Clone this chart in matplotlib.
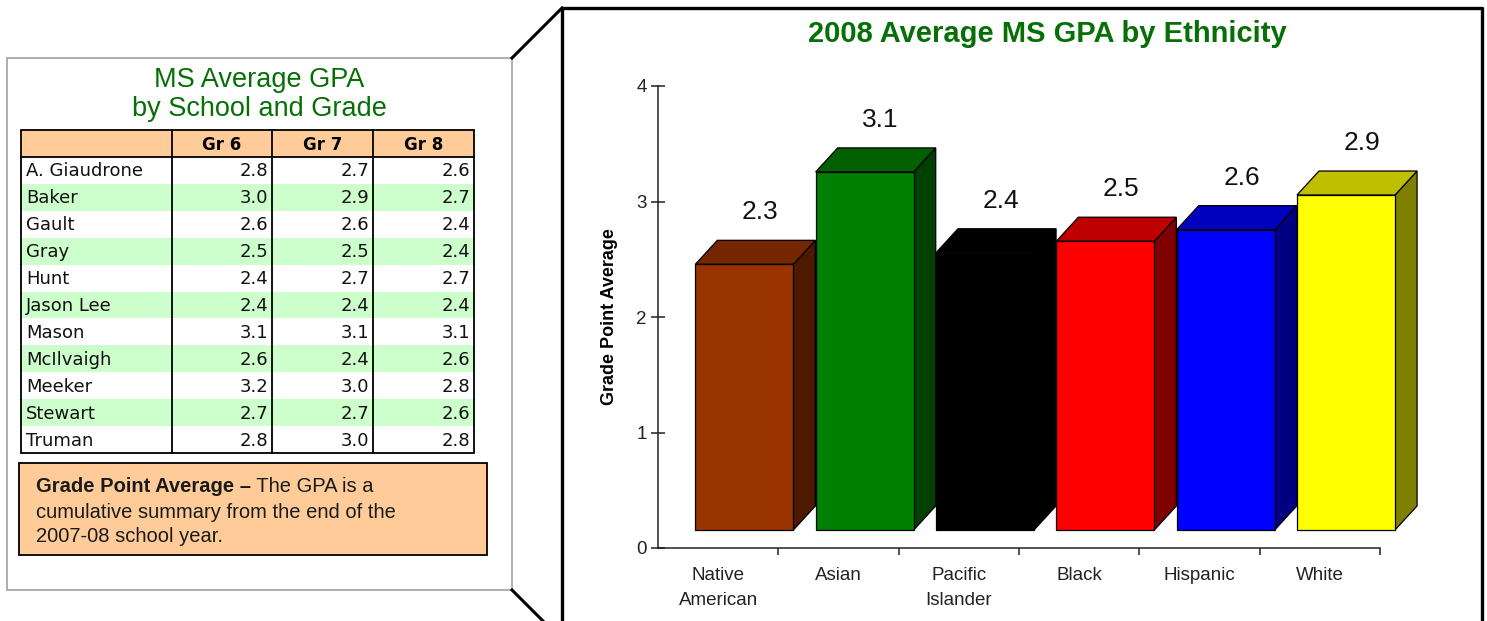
import matplotlib.pyplot as plt
from matplotlib.patches import Polygon, Rectangle
import matplotlib.colors as mcolors

# left table data
schools = ['A. Giaudrone', 'Baker', 'Gault', 'Gray', 'Hunt', 'Jason Lee',
           'Mason', 'McIlvaigh', 'Meeker', 'Stewart', 'Truman']
grades = ['Gr 6', 'Gr 7', 'Gr 8']
gr6 = [2.8, 3.0, 2.6, 2.5, 2.4, 2.4, 3.1, 2.6, 3.2, 2.7, 2.8]
gr7 = [2.7, 2.9, 2.6, 2.5, 2.7, 2.4, 3.1, 2.4, 3.0, 2.7, 3.0]
gr8 = [2.6, 2.7, 2.4, 2.4, 2.7, 2.4, 3.1, 2.6, 2.8, 2.6, 2.8]

# right chart data
groups = ['Native\nAmerican', 'Asian', 'Pacific\nIslander', 'Black', 'Hispanic', 'White']
gpa = [2.3, 3.1, 2.4, 2.5, 2.6, 2.9]
bar_colors = ['#993300', '#008000', '#000000', '#FF0000', '#0000FF', '#FFFF00']

GREEN = '#067006'
ORANGE = '#FFCC99'
ROW_GREEN = '#CCFFCC'
ARIAL = 'Liberation Sans'
TABLE_FONT = 'DejaVu Sans'

W, H = 1487, 621
fig = plt.figure(figsize=(W / 100, H / 100), dpi=100)

# full-figure axes in pixel units for the panel decoration
bg = fig.add_axes([0, 0, 1, 1])
bg.set_xlim(0, W)
bg.set_ylim(H, 0)
bg.axis('off')

# left panel box + connector lines + right frame
bg.add_patch(Rectangle((7, 58), 505, 532, fill=False, ec='#a8a8a8', lw=1.3))
bg.plot([512, 562], [58, 8], color='black', lw=2.2)
bg.plot([512, 562], [590, 640], color='black', lw=2.2)
bg.plot([562, 562, 1482, 1482], [640, 8, 8, 640], color='black', lw=2.4)

bg.text(259, 80, 'MS Average GPA', ha='center', va='center', fontsize=19.5,
        color=GREEN, family=ARIAL)
bg.text(259, 109, 'by School and Grade', ha='center', va='center', fontsize=19.5,
        color=GREEN, family=ARIAL)

# table
col_x = [21, 172, 272, 373, 474]
head_top, head_bot, tab_bot = 130, 157, 453
row_h = (tab_bot - head_bot) / len(schools)

bg.add_patch(Rectangle((col_x[0], head_top), col_x[-1] - col_x[0], head_bot - head_top,
                       fc=ORANGE, ec='none'))
for j, g in enumerate(grades):
    bg.text((col_x[j + 1] + col_x[j + 2]) / 2, (head_top + head_bot) / 2 + 1, g,
            ha='center', va='center', fontsize=12, weight='bold', family=TABLE_FONT)

values = list(zip(gr6, gr7, gr8))
for i, name in enumerate(schools):
    y = head_bot + i * row_h
    if i % 2 == 1:
        bg.add_patch(Rectangle((col_x[0], y), col_x[-1] - col_x[0], row_h,
                               fc=ROW_GREEN, ec='none'))
    bg.text(col_x[0] + 5, y + row_h / 2 + 1, name, ha='left', va='center',
            fontsize=13, family=TABLE_FONT, color='#111111')
    for j, v in enumerate(values[i]):
        bg.text(col_x[j + 2] - 4, y + row_h / 2 + 1, f'{v:.1f}', ha='right', va='center',
                fontsize=13, family=TABLE_FONT, color='#111111')

bg.add_patch(Rectangle((col_x[0], head_top), col_x[-1] - col_x[0], tab_bot - head_top,
                       fill=False, ec='black', lw=1.3))
for cx in col_x[1:-1]:
    bg.plot([cx, cx], [head_top, tab_bot], color='black', lw=1.3)
bg.plot([col_x[0], col_x[-1]], [head_bot, head_bot], color='black', lw=1.3)

# note box
bg.add_patch(Rectangle((19, 463), 468, 92, fc=ORANGE, ec='black', lw=1.3))
t1 = bg.text(36, 487, 'Grade Point Average \u2013', ha='left', va='center',
             fontsize=14.5, weight='bold', family=ARIAL, color='#1a1a1a')
bg.annotate(' The GPA is a', xy=(1, 0), xycoords=t1, ha='left', va='bottom',
            fontsize=14.5, family=ARIAL, color='#1a1a1a')
bg.text(36, 512, 'cumulative summary from the end of the', ha='left', va='center',
        fontsize=14.5, family=ARIAL, color='#1a1a1a')
bg.text(36, 537, '2007-08 school year.', ha='left', va='center',
        fontsize=14.5, family=ARIAL, color='#1a1a1a')

# right chart title
bg.text(1047, 34, '2008 Average MS GPA by Ethnicity', ha='center', va='center',
        fontsize=21, weight='bold', color=GREEN, family=ARIAL)

# bar chart axes
x0, x1, y0, y1 = 658, 1380, 548, 86
ax = fig.add_axes([x0 / W, 1 - y0 / H, (x1 - x0) / W, (y0 - y1) / H])
ax.set_xlim(0, len(groups))
ax.set_ylim(0, 4)
ax.patch.set_visible(False)
for s in ['top', 'right']:
    ax.spines[s].set_visible(False)
for s in ['left', 'bottom']:
    ax.spines[s].set_color('#222222')
    ax.spines[s].set_linewidth(1.1)

ax.set_yticks(range(5))
ax.tick_params(axis='y', direction='inout', length=10, width=1.1, pad=3,
               labelsize=13.5, colors='#222222')
ax.set_xticks(range(1, len(groups) + 1))
ax.set_xticklabels([])
ax.tick_params(axis='x', which='major', direction='out', length=5, width=1.1, colors='#222222')
ax.set_xticks([i + 0.5 for i in range(len(groups))], minor=True)
ax.set_xticklabels(groups, minor=True)
ax.tick_params(axis='x', which='minor', length=0, pad=14, labelsize=13.5, labelcolor='#222222')
for lab in ax.get_xticklabels(minor=True):
    lab.set_family(ARIAL)
    lab.set_linespacing(1.55)
for lab in ax.get_yticklabels():
    lab.set_family(ARIAL)

ax.set_ylabel('Grade Point Average', fontsize=13, weight='bold', family=ARIAL)
ax.yaxis.set_label_coords(-0.056, 0.5)

# pseudo-3D bars
base, dx, dy = 0.156, 0.183, 0.208
x_off, bw = 0.31, 0.815
for i, (v, c) in enumerate(zip(gpa, bar_colors)):
    rgb = mcolors.to_rgb(c)
    top_c = tuple(k * 0.75 for k in rgb)
    side_c = tuple(k * 0.5 for k in rgb)
    xl, xr, yt = i + x_off, i + x_off + bw, base + v
    front = [(xl, base), (xr, base), (xr, yt), (xl, yt)]
    side = [(xr, base), (xr + dx, base + dy), (xr + dx, yt + dy), (xr, yt)]
    topf = [(xl, yt), (xl + dx, yt + dy), (xr + dx, yt + dy), (xr, yt)]
    for pts, fc in [(side, side_c), (topf, top_c), (front, rgb)]:
        ax.add_patch(Polygon(pts, closed=True, fc=fc, ec='black', lw=0.9, clip_on=False))
    ax.text(i + 0.85, yt + 0.45, f'{v:.1f}', ha='center', va='center',
            fontsize=19, family=ARIAL, color='#111111')

fig.savefig('out.png', dpi=100)
